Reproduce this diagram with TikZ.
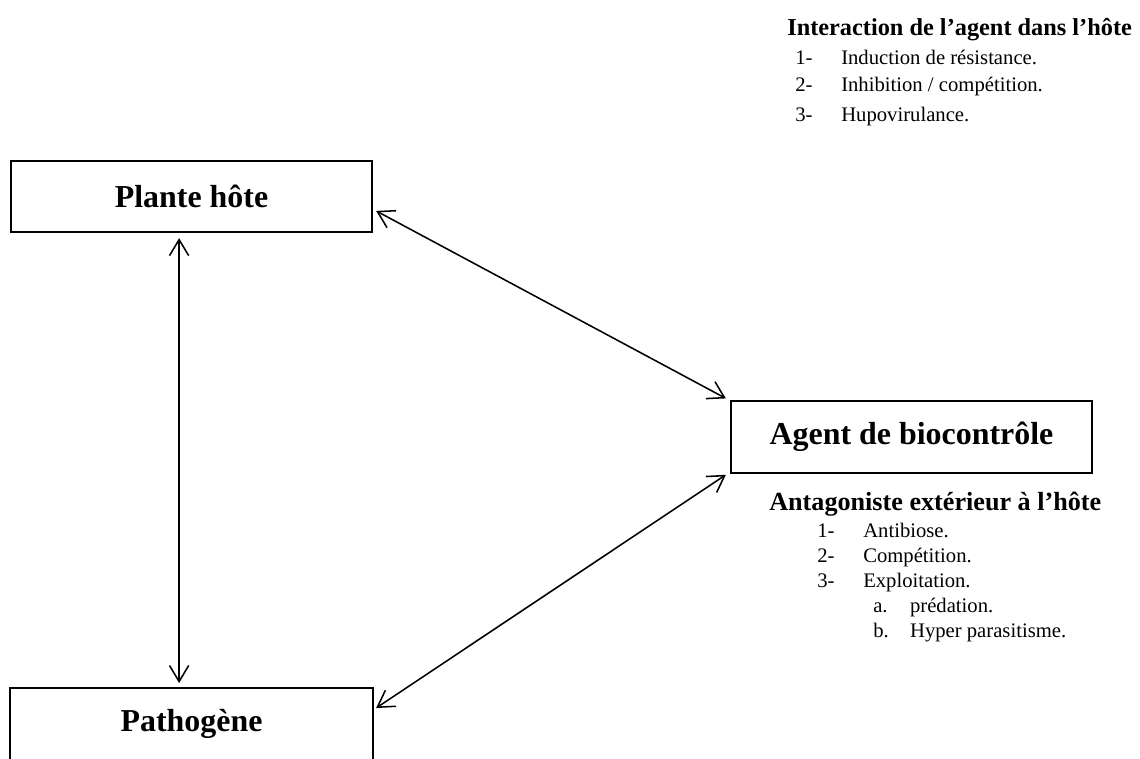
\documentclass[tikz,border=0pt]{standalone}
\usepackage{fontspec}
\setmainfont{Liberation Serif}
\usepackage{tikz}
\usetikzlibrary{arrows.meta, positioning}
\newcommand\boxfont{\fontsize{22.7}{26}\selectfont\bfseries}
\newcommand\topheadfont{\fontsize{17.3}{20}\selectfont\bfseries}
\newcommand\subheadfont{\fontsize{18.6}{21}\selectfont\bfseries}
\newcommand\listfont{\fontsize{14.7}{17}\selectfont}
\newcommand\nitem[2]{\makebox[1.15cm][l]{#1}#2}
\tikzset{
  hostbox/.style={rectangle, draw, line width=1.4pt, minimum width=9.03cm,
              minimum height=1.78cm, inner sep=0pt, font=\boxfont},
  heading/.style={anchor=base west, inner sep=0pt},
  listitem/.style={anchor=base west, inner sep=0pt, font=\listfont},
  link/.style={{Straight Barb[length=4mm, width=4.8mm]}-{Straight Barb[length=4mm, width=4.8mm]},
              line width=1.1pt},
}

\begin{document}
\begin{tikzpicture}[x=0.025cm, y=-0.025cm]
    \useasboundingbox (0,0) rectangle (1140,758);

    % the three partners
    \node[hostbox] (plant) at (191.5,196.5) {Plante hôte};
    \node[hostbox, draw=none, minimum height=1.725cm] (path) at (191.5,723.5) {Pathogène};
    \draw[line width=1.4pt] (path.south west) -- (path.north west) -- (path.north east) -- (path.south east);
    \node[hostbox] (agent) at (911.5,437) {Agent de biocontrôle};

    % interaction in the host
    \node[heading, font=\topheadfont] (inhead) at (787,35) {Interaction de l’agent dans l’hôte};
    \node[listitem] (in1) at (795,64) {\nitem{1-}{Induction de résistance.}};
    \node[listitem] (in2) at (795,91) {\nitem{2-}{Inhibition / compétition.}};
    \node[listitem] (in3) at (795,121) {\nitem{3-}{Hupovirulance.}};

    % antagonist outside the host
    \node[heading, font=\subheadfont] (exhead) at (769,510) {Antagoniste extérieur à l’hôte};
    \node[listitem] (ex1) at (817,537) {\nitem{1-}{Antibiose.}};
    \node[listitem] (ex2) at (817,562) {\nitem{2-}{Compétition.}};
    \node[listitem] (ex3) at (817,587) {\nitem{3-}{Exploitation.}};
    \node[listitem] (exa) at (873,612) {\makebox[0.92cm][l]{a.}prédation.};
    \node[listitem] (exb) at (873,637) {\makebox[0.92cm][l]{b.}Hyper parasitisme.};

    \draw[link] ([xshift=-0.31cm, yshift=-0.125cm]plant.south) -- ([xshift=-0.31cm, yshift=0.125cm]path.north);
    \draw[link] ([xshift=0.075cm, yshift=-0.36cm]plant.east) -- ([xshift=-0.1cm, yshift=0.05cm]agent.north west);
    \draw[link] ([xshift=0.075cm, yshift=-0.5cm]path.north east) -- ([xshift=-0.1cm, yshift=-0.03cm]agent.south west);
\end{tikzpicture}
\end{document}
